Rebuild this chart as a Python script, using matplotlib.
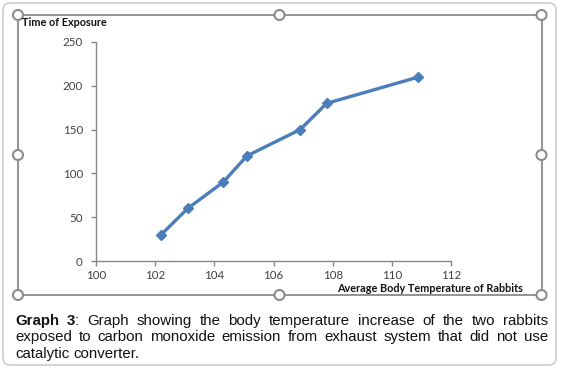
import numpy as np
import matplotlib.pyplot as plt
from matplotlib.patches import FancyBboxPatch, Circle
from matplotlib.lines import Line2D
from matplotlib.transforms import IdentityTransform

# data
temp = [102.2, 103.1, 104.3, 105.1, 106.9, 107.8, 110.9]
exposure = [30, 60, 90, 120, 150, 180, 210]
xticks = [100, 102, 104, 106, 108, 110, 112]
yticks = [0, 50, 100, 150, 200, 250]

ylabel = 'Time of Exposure'
xlabel = 'Average Body Temperature of Rabbits'
caption = [
    [[('Graph', 'bold')], [('3', 'bold'), (':', 'normal')], 'Graph', 'showing', 'the', 'body',
     'temperature', 'increase', 'of', 'the', 'two', 'rabbits'],
    ['exposed', 'to', 'carbon', 'monoxide', 'emission', 'from', 'exhaust', 'system', 'that',
     'did', 'not', 'use'],
    ['catalytic', 'converter.'],
]

W, H = 561, 368
fig = plt.figure(figsize=(W / 100, H / 100), dpi=100)
px = IdentityTransform()

def fy(y):
    return H - y

# outer rounded box
fig.patches.append(FancyBboxPatch((3, fy(365)), 553, 362, boxstyle='round,pad=0,rounding_size=7',
                                  transform=px, fc='white', ec='#c4c4c4', lw=1.0, zorder=-5))

# chart frame with handles
L, R, T, B = 18, 541.5, 15, 295
for xs, ys in [((L, R), (T, T)), ((L, R), (B, B)), ((L, L), (T, B)), ((R, R), (T, B))]:
    fig.lines.append(Line2D(xs, [fy(v) for v in ys], transform=px, color='#8a8a8a', lw=1.3, zorder=-4))
for hx, hy in [(L, T), (279.5, T), (R, T), (L, 155), (R, 155), (L, B), (279.5, B), (R, B)]:
    fig.patches.append(Circle((hx, fy(hy)), 5, transform=px, fc='white', ec='#8c8c8c', lw=1.5, zorder=-3))

ax = fig.add_axes([96 / W, 1 - 261 / H, 355 / W, 219 / H])
ax.plot(temp, exposure, color='#4a7ebb', lw=2.4, marker='D', markersize=5, zorder=3, clip_on=False)
ax.set_xlim(100, 112)
ax.set_ylim(0, 250)
ax.set_xticks(xticks)
ax.set_yticks(yticks)
ax.patch.set_alpha(0)
for s in ['top', 'right']:
    ax.spines[s].set_visible(False)
for s in ['left', 'bottom']:
    ax.spines[s].set_color('#888888')
    ax.spines[s].set_linewidth(1.0)
ax.tick_params(axis='both', colors='#888888', labelcolor='#404040', labelsize=8.3, length=3.5, width=1.0)
ax.tick_params(axis='y', pad=6)
ax.tick_params(axis='x', pad=3)
for lab in ax.get_xticklabels() + ax.get_yticklabels():
    lab.set_family('Lato')

fig.text(22 / W, 1 - 23 / H, ylabel, fontsize=7.8, fontweight='bold', family='Lato',
         ha='left', va='center', color='#111111')
fig.text(523 / W, 1 - 288 / H, xlabel, fontsize=7.8, fontweight='bold', family='Lato',
         ha='right', va='center', color='#111111')

# justified caption
fig.canvas.draw()
rend = fig.canvas.get_renderer()
cap_fs = 10.8
left, right = 15, 548
baselines = [325, 341, 358]

def seg_width(s, w):
    t = fig.text(0, 0, s, fontsize=cap_fs, fontweight=w, family='Liberation Sans')
    wd = t.get_window_extent(rend).width
    t.remove()
    return wd

for i, words in enumerate(caption):
    words = [[(w, 'normal')] if isinstance(w, str) else w for w in words]
    widths = [[seg_width(s, wt) for s, wt in w] for w in words]
    total = sum(sum(ws) for ws in widths)
    if i < len(caption) - 1:
        gap = (right - left - total) / (len(words) - 1)
    else:
        gap = seg_width('a b', 'normal') - seg_width('ab', 'normal')
    x = left
    for w, ws in zip(words, widths):
        for (s, wt), sw in zip(w, ws):
            fig.text(x / W, 1 - baselines[i] / H, s, fontsize=cap_fs, fontweight=wt,
                     family='Liberation Sans', ha='left', va='baseline', color='#111111')
            x += sw
        x += gap

plt.savefig('out.png', dpi=100)
